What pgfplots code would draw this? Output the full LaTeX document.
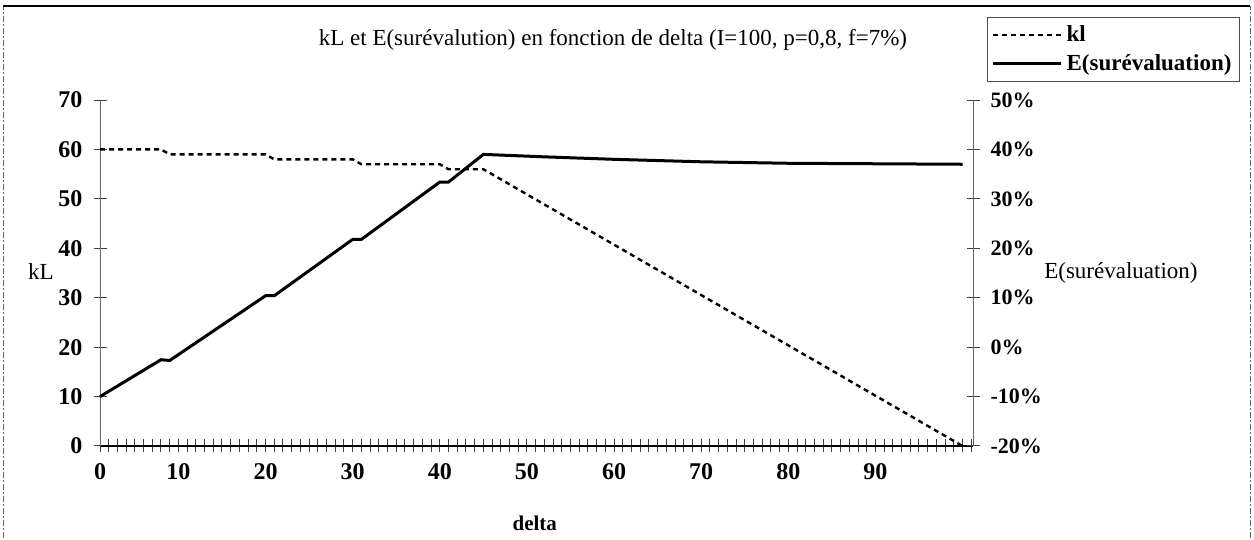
\documentclass[border=0pt]{standalone}
\usepackage{fontspec}
\setmainfont{Liberation Serif}
\usepackage{pgfplots}
\usepackage{pgfplotstable}
\pgfplotsset{compat=1.18}

\pgfplotstableread{
d kl
1 60
8 60
9 59
20 59
21 58
30 58
31 57
40 57
41 56
45 56
100 0
}\kltable

\pgfplotstableread{
d e
1 -10
8 -2.55
9 -2.7
20 10.4
21 10.4
30 21.8
31 21.8
40 33.4
41 33.4
45 39.0
52 38.5
60 38.0
70 37.5
80 37.2
90 37.1
100 37.0
}\etable

\tikzset{kldash/.style={black, line width=1.2pt, dash pattern=on 2.5pt off 2pt}}

\pgfplotsset{
  commonax/.style={
    scale only axis, width=436.5pt, height=173pt,
    at={(50pt,47pt)}, anchor=south west,
    xmin=1, xmax=101.2,
    /pgf/number format/assume math mode=true,
    tick align=center,
    major tick length=6.5pt,
    minor tick length=6.5pt,
    tick style={black!75, line width=0.5pt},
    clip=false,
  }
}

\begin{document}
\begin{tikzpicture}
\useasboundingbox (0,0) rectangle (627pt,270pt);
\draw[black!60, line width=0.5pt, dash pattern=on 3pt off 1pt on 1pt off 1pt] (1.5pt,-5pt) -- (1.5pt,267pt);
\draw[black!60, line width=0.5pt, dash pattern=on 3pt off 1pt on 1pt off 1pt] (625pt,-5pt) -- (625pt,267pt);
\draw[black, line width=0.8pt] (1.5pt,267pt) -- (625pt,267pt);

\begin{axis}[commonax,
  ymin=0, ymax=70,
  axis x line*=bottom, axis y line*=left,
  x axis line style={black, line width=0.8pt, -},
  y axis line style={black!60, line width=0.5pt, -},
  xtick={1,10,20,30,40,50,60,70,80,90},
  xticklabels={0,10,20,30,40,50,60,70,80,90},
  minor xtick={1,2,...,101},
  ytick={0,10,...,70},
  ticklabel style={font=\bfseries\fontsize{12}{12}\selectfont},
  yticklabel style={xshift=-2pt},
  xticklabel style={yshift=-2pt},
  xlabel={delta},
  every axis x label/.style={at={(axis description cs:0.498,-0.2225)}, anchor=center, font=\bfseries\fontsize{10.5}{12}\selectfont},
  ylabel={kL},
  every axis y label/.style={at={(axis description cs:-0.0676,0.503)}, anchor=center, font=\fontsize{11.5}{12}\selectfont},
  title={kL et E(surévalution) en fonction de delta (I=100, p=0,8, f=7\%)},
  every axis title/.style={at={(axis description cs:0.5876,1.1734)}, anchor=center, font=\fontsize{11.5}{12}\selectfont},
]
\addplot[kldash] table[x=d, y=kl]{\kltable};
\end{axis}

\begin{axis}[commonax,
  ymin=-20, ymax=50,
  axis x line=none, axis y line*=right,
  y axis line style={black!60, line width=0.5pt, -},
  ytick={-20,-10,...,50},
  yticklabels={-20\%,-10\%,0\%,10\%,20\%,30\%,40\%,50\%},
  yticklabel style={font=\bfseries\fontsize{11}{12}\selectfont, xshift=2pt},
  ylabel={E(surévaluation)},
  every axis y label/.style={at={(axis description cs:1.1695,0.5)}, anchor=center, font=\fontsize{11.5}{12}\selectfont},
  legend style={at={(axis description cs:1.3058,1.2399)}, anchor=north east,
    draw=black!70, line width=0.5pt, font=\bfseries\fontsize{11.5}{12}\selectfont,
    inner xsep=2pt, inner ysep=2pt, row sep=1pt, cells={anchor=west}},
  legend image code/.code={\draw[#1] (0pt,0pt) -- (34pt,0pt);},
]
\addlegendimage{kldash}
\addlegendentry{kl}
\addplot[black, line width=1.5pt] table[x=d, y=e]{\etable};
\addlegendentry{E(surévaluation)}
\end{axis}
\end{tikzpicture}
\end{document}
